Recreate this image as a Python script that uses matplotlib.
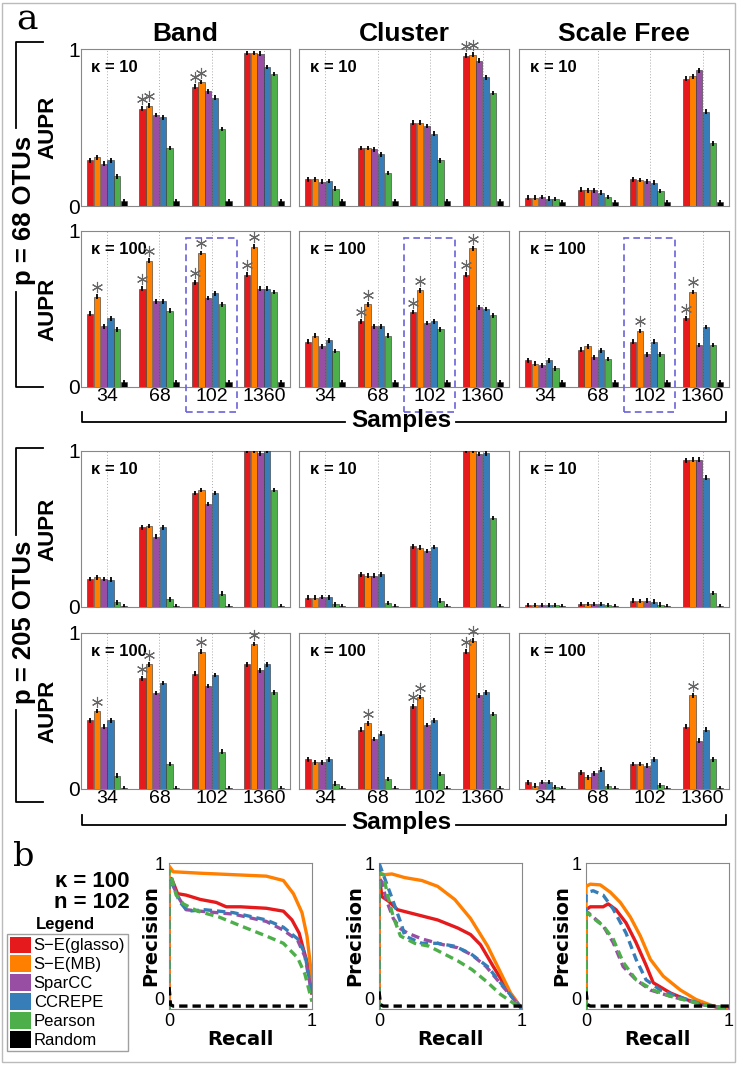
import matplotlib
matplotlib.use('Agg')
import numpy as np
import matplotlib.pyplot as plt
from matplotlib.patches import Patch, Rectangle
from matplotlib.lines import Line2D

methods = ['S\u2212E(glasso)', 'S\u2212E(MB)', 'SparCC', 'CCREPE', 'Pearson', 'Random']
colors = ['#e41a1c', '#ff7f00', '#984ea3', '#377eb8', '#4daf4a', '#000000']
samples = ['34', '68', '102', '1360']
structures = ['Band', 'Cluster', 'Scale Free']
kappas = ['10', '100', '10', '100']

# AUPR: one row per sample size (34, 68, 102, 1360), columns in method order
band_p68_k10 = [[0.29, 0.31, 0.27, 0.29, 0.19, 0.03],
                [0.62, 0.64, 0.58, 0.565, 0.37, 0.03],
                [0.76, 0.79, 0.73, 0.69, 0.49, 0.03],
                [0.975, 0.975, 0.97, 0.885, 0.84, 0.03]]
cluster_p68_k10 = [[0.17, 0.17, 0.155, 0.16, 0.11, 0.03],
                   [0.37, 0.37, 0.36, 0.33, 0.21, 0.03],
                   [0.53, 0.53, 0.51, 0.46, 0.29, 0.03],
                   [0.957, 0.964, 0.925, 0.82, 0.72, 0.03]]
scale_p68_k10 = [[0.054, 0.054, 0.058, 0.047, 0.045, 0.025],
                 [0.105, 0.10, 0.10, 0.085, 0.058, 0.025],
                 [0.17, 0.165, 0.158, 0.148, 0.096, 0.025],
                 [0.81, 0.825, 0.865, 0.60, 0.40, 0.025]]
band_p68_k100 = [[0.47, 0.58, 0.39, 0.44, 0.37, 0.03],
                 [0.63, 0.81, 0.55, 0.55, 0.49, 0.03],
                 [0.67, 0.86, 0.57, 0.60, 0.53, 0.03],
                 [0.72, 0.90, 0.63, 0.63, 0.61, 0.03]]
cluster_p68_k100 = [[0.29, 0.33, 0.26, 0.30, 0.23, 0.03],
                    [0.42, 0.53, 0.39, 0.39, 0.33, 0.03],
                    [0.48, 0.62, 0.41, 0.42, 0.37, 0.03],
                    [0.72, 0.89, 0.51, 0.50, 0.46, 0.03]]
scale_p68_k100 = [[0.17, 0.15, 0.14, 0.17, 0.12, 0.03],
                  [0.24, 0.26, 0.19, 0.235, 0.18, 0.03],
                  [0.29, 0.36, 0.21, 0.29, 0.21, 0.03],
                  [0.44, 0.61, 0.27, 0.385, 0.27, 0.03]]
band_p205_k10 = [[0.18, 0.19, 0.18, 0.175, 0.03, 0.005],
                 [0.51, 0.52, 0.45, 0.51, 0.05, 0.005],
                 [0.73, 0.75, 0.66, 0.73, 0.086, 0.005],
                 [1.0, 1.0, 0.985, 1.0, 0.75, 0.005]]
cluster_p205_k10 = [[0.06, 0.06, 0.064, 0.062, 0.017, 0.005],
                    [0.21, 0.20, 0.20, 0.21, 0.026, 0.005],
                    [0.39, 0.38, 0.36, 0.385, 0.04, 0.005],
                    [1.0, 1.0, 0.98, 0.985, 0.57, 0.005]]
scale_p205_k10 = [[0.012, 0.012, 0.012, 0.012, 0.010, 0.006],
                  [0.020, 0.020, 0.020, 0.020, 0.012, 0.006],
                  [0.040, 0.038, 0.040, 0.035, 0.015, 0.006],
                  [0.94, 0.945, 0.945, 0.83, 0.09, 0.005]]
band_p205_k100 = [[0.44, 0.50, 0.40, 0.44, 0.085, 0.005],
                  [0.71, 0.80, 0.615, 0.68, 0.16, 0.005],
                  [0.74, 0.88, 0.66, 0.73, 0.24, 0.005],
                  [0.80, 0.93, 0.76, 0.80, 0.62, 0.005]]
cluster_p205_k100 = [[0.19, 0.17, 0.17, 0.19, 0.035, 0.005],
                     [0.38, 0.42, 0.32, 0.355, 0.064, 0.005],
                     [0.53, 0.59, 0.41, 0.44, 0.096, 0.005],
                     [0.88, 0.95, 0.60, 0.62, 0.48, 0.005]]
scale_p205_k100 = [[0.043, 0.021, 0.045, 0.045, 0.011, 0.005],
                   [0.107, 0.075, 0.10, 0.125, 0.017, 0.005],
                   [0.16, 0.16, 0.15, 0.19, 0.024, 0.005],
                   [0.40, 0.60, 0.31, 0.38, 0.19, 0.005]]
bar_err = 0.015

# significance stars: (sample index, method index)
band_p68_k10_star = [(1, 0), (1, 1), (2, 0), (2, 1)]
cluster_p68_k10_star = [(3, 0), (3, 1)]
scale_p68_k10_star = []
band_p68_k100_star = [(0, 1), (1, 0), (1, 1), (2, 0), (2, 1), (3, 0), (3, 1)]
cluster_p68_k100_star = [(1, 0), (1, 1), (2, 0), (2, 1), (3, 0), (3, 1)]
scale_p68_k100_star = [(2, 1), (3, 0), (3, 1)]
band_p205_k10_star = []
cluster_p205_k10_star = []
scale_p205_k10_star = []
band_p205_k100_star = [(0, 1), (1, 0), (1, 1), (2, 1), (3, 1)]
cluster_p205_k100_star = [(1, 1), (2, 0), (2, 1), (3, 0), (3, 1)]
scale_p205_k100_star = [(3, 1)]

# precision-recall curves, kappa = 100, n = 102
band_glasso_rec = [0, 0, 0.02, 0.06, 0.12, 0.22, 0.33, 0.40, 0.50, 0.68, 0.80, 0.86, 0.91, 0.94, 0.98, 1.0]
band_glasso_prec = [0, 0.90, 0.89, 0.79, 0.78, 0.75, 0.73, 0.70, 0.70, 0.69, 0.67, 0.61, 0.52, 0.41, 0.27, 0.11]
band_mb_rec = [0, 0, 0.03, 0.22, 0.45, 0.68, 0.80, 0.87, 0.93, 0.965, 0.99, 1.0]
band_mb_prec = [0, 0.98, 0.94, 0.93, 0.92, 0.91, 0.88, 0.79, 0.66, 0.50, 0.29, 0.11]
band_sparcc_rec = [0, 0, 0.02, 0.075, 0.12, 0.22, 0.45, 0.68, 0.80, 0.90, 0.95, 1.0]
band_sparcc_prec = [0, 0.88, 0.86, 0.75, 0.68, 0.67, 0.65, 0.60, 0.54, 0.47, 0.36, 0.10]
band_ccrepe_rec = [0, 0, 0.02, 0.07, 0.13, 0.25, 0.45, 0.68, 0.80, 0.90, 0.95, 1.0]
band_ccrepe_prec = [0, 0.90, 0.88, 0.74, 0.67, 0.68, 0.66, 0.61, 0.56, 0.48, 0.38, 0.10]
band_pearson_rec = [0, 0, 0.01, 0.05, 0.10, 0.20, 0.35, 0.50, 0.68, 0.80, 0.90, 0.95, 1.0]
band_pearson_prec = [0, 0.95, 0.93, 0.78, 0.72, 0.67, 0.63, 0.57, 0.50, 0.45, 0.35, 0.24, 0.05]
band_random_rec = [0, 0.005, 0.01, 0.03, 1.0]
band_random_prec = [0.15, 0.10, 0.03, 0.02, 0.02]

cluster_glasso_rec = [0, 0, 0.01, 0.02, 0.065, 0.13, 0.25, 0.41, 0.55, 0.64, 0.71, 0.80, 0.90, 1.0]
cluster_glasso_prec = [0, 0.86, 0.85, 0.77, 0.74, 0.68, 0.65, 0.61, 0.555, 0.51, 0.44, 0.29, 0.13, 0.0]
cluster_mb_rec = [0, 0, 0.04, 0.09, 0.18, 0.30, 0.41, 0.53, 0.64, 0.76, 0.85, 0.92, 1.0]
cluster_mb_prec = [0, 0.93, 0.92, 0.925, 0.90, 0.88, 0.84, 0.75, 0.62, 0.43, 0.25, 0.11, 0.0]
cluster_sparcc_rec = [0, 0, 0.02, 0.05, 0.10, 0.15, 0.20, 0.30, 0.45, 0.55, 0.65, 0.75, 0.87, 1.0]
cluster_sparcc_prec = [0, 0.90, 0.87, 0.75, 0.62, 0.55, 0.52, 0.48, 0.44, 0.42, 0.37, 0.29, 0.15, 0.0]
cluster_ccrepe_rec = [0, 0, 0.087, 0.16, 0.18, 0.30, 0.41, 0.53, 0.64, 0.76, 0.87, 1.0]
cluster_ccrepe_prec = [0, 1.0, 0.77, 0.57, 0.50, 0.45, 0.45, 0.43, 0.38, 0.29, 0.155, 0.0]
cluster_pearson_rec = [0, 0, 0.03, 0.06, 0.10, 0.15, 0.25, 0.35, 0.45, 0.55, 0.65, 0.75, 0.85, 1.0]
cluster_pearson_prec = [0, 0.93, 0.92, 0.78, 0.63, 0.50, 0.45, 0.43, 0.38, 0.33, 0.27, 0.19, 0.10, 0.0]
cluster_random_rec = [0, 0.005, 0.01, 0.03, 1.0]
cluster_random_prec = [0.12, 0.08, 0.03, 0.02, 0.02]

scale_glasso_rec = [0, 0, 0.03, 0.12, 0.155, 0.21, 0.28, 0.35, 0.42, 0.47, 0.59, 0.70, 0.82, 1.0]
scale_glasso_prec = [0, 0.68, 0.70, 0.70, 0.72, 0.68, 0.59, 0.455, 0.30, 0.18, 0.11, 0.065, 0.03, 0.0]
scale_mb_rec = [0, 0, 0.03, 0.10, 0.17, 0.24, 0.31, 0.38, 0.45, 0.54, 0.66, 0.77, 0.89, 1.0]
scale_mb_prec = [0, 0.84, 0.855, 0.85, 0.80, 0.73, 0.63, 0.50, 0.34, 0.225, 0.13, 0.065, 0.02, 0.0]
scale_sparcc_rec = [0, 0, 0.015, 0.05, 0.12, 0.19, 0.26, 0.35, 0.45, 0.59, 0.82, 1.0]
scale_sparcc_prec = [0, 0.66, 0.66, 0.63, 0.57, 0.455, 0.29, 0.20, 0.13, 0.087, 0.03, 0.0]
scale_ccrepe_rec = [0, 0, 0.015, 0.05, 0.12, 0.19, 0.28, 0.35, 0.42, 0.52, 0.63, 0.82, 1.0]
scale_ccrepe_prec = [0, 0.78, 0.80, 0.81, 0.78, 0.685, 0.52, 0.34, 0.20, 0.13, 0.09, 0.03, 0.0]
scale_pearson_rec = [0, 0, 0.01, 0.04, 0.12, 0.19, 0.26, 0.35, 0.47, 0.59, 0.82, 1.0]
scale_pearson_prec = [0, 0.64, 0.66, 0.63, 0.57, 0.48, 0.32, 0.20, 0.13, 0.087, 0.03, 0.0]
scale_random_rec = [0, 0.005, 0.01, 0.03, 1.0]
scale_random_prec = [0.12, 0.08, 0.03, 0.02, 0.02]

W, H = 740, 1066
fig = plt.figure(figsize=(W / 100, H / 100), dpi=100)
SANS = 'Liberation Sans'


def fx(x):
    return x / W


def fy(y):
    return 1 - y / H


def px_axes(left, top, right, bottom):
    return fig.add_axes([fx(left), fy(bottom), (right - left) / W, (bottom - top) / H])


def fig_line(xs, ys, **kw):
    fig.add_artist(Line2D([fx(x) for x in xs], [fy(y) for y in ys],
                          transform=fig.transFigure, color='black', lw=1.3, **kw))


# outer frame
fig.add_artist(Rectangle((fx(2), fy(1062)), fx(733), 1 - fy(1062) - (1 - fy(3)),
                         transform=fig.transFigure, fill=False, ec='#bbbbbb', lw=1))

bar_rows = [
    [(band_p68_k10, band_p68_k10_star), (cluster_p68_k10, cluster_p68_k10_star), (scale_p68_k10, scale_p68_k10_star)],
    [(band_p68_k100, band_p68_k100_star), (cluster_p68_k100, cluster_p68_k100_star), (scale_p68_k100, scale_p68_k100_star)],
    [(band_p205_k10, band_p205_k10_star), (cluster_p205_k10, cluster_p205_k10_star), (scale_p205_k10, scale_p205_k10_star)],
    [(band_p205_k100, band_p205_k100_star), (cluster_p205_k100, cluster_p205_k100_star), (scale_p205_k100, scale_p205_k100_star)],
]
row_px = [(49, 206), (231, 387), (451, 607), (633, 789)]
col_px = [(81, 290), (299, 509), (519, 729)]
highlight_group = 2  # n = 102 boxed in the p = 68, kappa = 100 row

width = 0.12
step = 0.13
xg = np.arange(1, len(samples) + 1)
for r, row in enumerate(bar_rows):
    for c, (vals, stars) in enumerate(row):
        ax = px_axes(col_px[c][0], row_px[r][0], col_px[c][1], row_px[r][1])
        vals = np.array(vals)
        for m in range(len(methods)):
            xs = xg + (m - 2.5) * step
            ax.bar(xs, vals[:, m], width=width, color=colors[m], edgecolor='#333333', lw=0.4, zorder=3)
            ax.errorbar(xs, vals[:, m], yerr=bar_err, fmt='none', ecolor='black',
                        elinewidth=1.3, capsize=0, zorder=4)
        for g, m in stars:
            ax.plot(xg[g] + (m - 2.5) * step, vals[g, m] + 0.06, marker=(6, 2, 0), ms=8,
                    mec='#666666', mew=0.8, ls='none', zorder=5, clip_on=False)
        ax.set_xlim(0.5, 4.5)
        ax.set_ylim(0, 1)
        for x in xg:
            ax.axvline(x, color='#aaaaaa', ls=(0, (1, 2)), lw=0.7, zorder=1)
        for s in ax.spines.values():
            s.set_color('#888888')
        ax.tick_params(length=0, labelsize=13, pad=1)
        ax.set_yticks([0, 1])
        ax.set_xticks(xg)
        if c == 0:
            ax.set_yticklabels(['0', '1'], fontfamily=SANS, fontsize=15)
            ax.set_ylabel('AUPR', fontfamily=SANS, fontweight='bold', fontsize=16, labelpad=7)
        else:
            ax.set_yticklabels([])
        if r in (1, 3):
            ax.set_xticklabels(samples, fontfamily=SANS, fontsize=14)
        else:
            ax.set_xticklabels([])
        ax.text(0.05, 0.93, '\u03ba = ' + kappas[r], transform=ax.transAxes, fontfamily=SANS,
                fontweight='bold', fontsize=12, va='top', ha='left')
        if r == 0:
            ax.set_title(structures[c], fontfamily=SANS, fontweight='bold', fontsize=19, pad=6)
        if r == 1:
            g = xg[highlight_group]
            ax.add_patch(Rectangle((g - 0.5, -0.16), 0.98, 1.115, fill=False, ec='#6a62d8',
                                   ls=(0, (4, 2.5)), lw=1.2, clip_on=False, zorder=6))

# "Samples" brackets
for yb in (422, 825):
    fig_line([82, 82, 345], [yb - 10, yb, yb])
    fig_line([456, 726, 726], [yb, yb, yb - 10])
    fig.text(fx(401), fy(yb - 2), 'Samples', fontfamily=SANS, fontweight='bold', fontsize=17.5,
             ha='center', va='center')

# "p = ... OTUs" brackets
for top, t_end, b_start, bot, label in [(42, 128, 292, 387, 'p = 68 OTUs'),
                                        (448, 535, 710, 802, 'p = 205 OTUs')]:
    fig_line([43, 16, 16], [top, top, t_end])
    fig_line([16, 16, 43], [b_start, bot, bot])
    fig.text(fx(24), fy((t_end + b_start) / 2), label, fontfamily=SANS, fontweight='bold',
             fontsize=18.5, rotation=90, ha='center', va='center')

fig.text(fx(27), fy(20), 'a', fontfamily='DejaVu Serif', fontsize=26, ha='center', va='center')
fig.text(fx(24), fy(857), 'b', fontfamily='DejaVu Serif', fontsize=24, ha='center', va='center')

# precision-recall panels
pr_sets = [
    [(band_glasso_rec, band_glasso_prec), (band_mb_rec, band_mb_prec), (band_sparcc_rec, band_sparcc_prec),
     (band_ccrepe_rec, band_ccrepe_prec), (band_pearson_rec, band_pearson_prec), (band_random_rec, band_random_prec)],
    [(cluster_glasso_rec, cluster_glasso_prec), (cluster_mb_rec, cluster_mb_prec), (cluster_sparcc_rec, cluster_sparcc_prec),
     (cluster_ccrepe_rec, cluster_ccrepe_prec), (cluster_pearson_rec, cluster_pearson_prec), (cluster_random_rec, cluster_random_prec)],
    [(scale_glasso_rec, scale_glasso_prec), (scale_mb_rec, scale_mb_prec), (scale_sparcc_rec, scale_sparcc_prec),
     (scale_ccrepe_rec, scale_ccrepe_prec), (scale_pearson_rec, scale_pearson_prec), (scale_random_rec, scale_random_prec)],
]
styles = ['-', '-', (0, (2.5, 1.5)), (0, (2.5, 1.5)), (0, (2.5, 1.5)), (0, (2.5, 1.5))]
pr_left = [169, 379, 586]
for k, curves in enumerate(pr_sets):
    ax = px_axes(pr_left[k], 863, pr_left[k] + 143, 1009)
    for m, (rec, prec) in enumerate(curves):
        ax.plot(rec, prec, color=colors[m], ls=styles[m], lw=2.4, zorder=3 + m * 0.1)
    ax.set_xlim(0, 1)
    ax.set_ylim(0, 1)
    ax.set_xticks([0, 1])
    ax.set_yticks([0, 1])
    ax.tick_params(axis='x', length=0, labelsize=13, pad=3)
    ax.tick_params(axis='y', length=0, labelsize=13, pad=3)
    ax.get_yticklabels()[0].set_va('bottom')
    for lab in ax.get_xticklabels() + ax.get_yticklabels():
        lab.set_fontfamily(SANS)
    for s in ax.spines.values():
        s.set_color('#888888')
    ax.set_xlabel('Recall', fontfamily='DejaVu Sans', fontweight='bold', fontsize=14, labelpad=0)
    ax.set_ylabel('Precision', fontfamily='DejaVu Sans', fontweight='bold', fontsize=14,
                  labelpad=-4 if k == 0 else 0)

fig.text(fx(92), fy(892), '\u03ba = 100\nn = 102', fontfamily=SANS, fontweight='bold', fontsize=16,
         ha='center', va='center', linespacing=1.0)
fig.text(fx(65), fy(925), 'Legend', fontfamily=SANS, fontweight='bold', fontsize=12,
         ha='center', va='center')
handles = [Patch(facecolor=col, edgecolor='none') for col in colors]
fig.legend(handles, methods, loc='upper left', bbox_to_anchor=(fx(7), fy(934)),
           prop={'family': SANS, 'size': 12}, frameon=True, fancybox=False, edgecolor='#888888',
           handlelength=1.3, handleheight=1.15, handletextpad=0.15, labelspacing=0.12,
           borderpad=0.15, borderaxespad=0)

fig.savefig('out.png', dpi=100)
